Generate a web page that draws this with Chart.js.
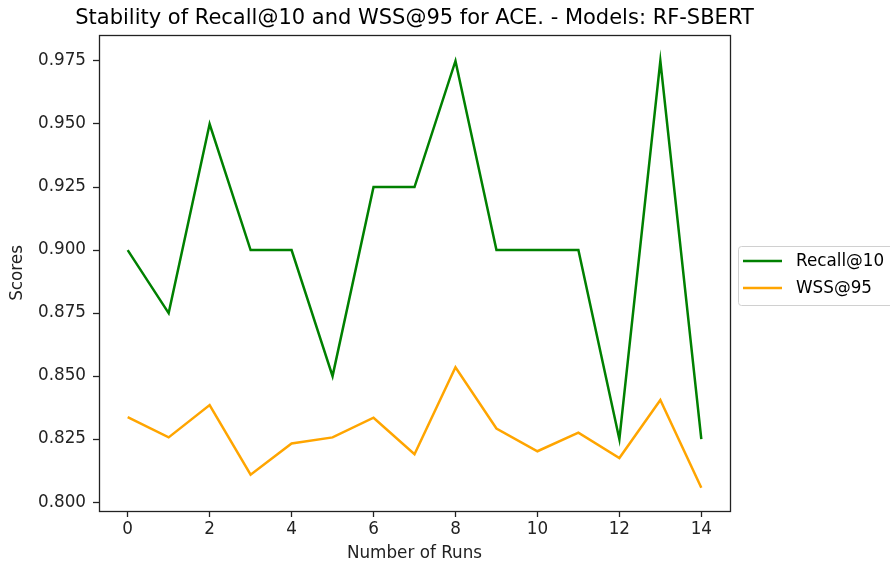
<!DOCTYPE html>
<html><head><meta charset="utf-8">
<script src="https://cdn.jsdelivr.net/npm/chart.js@4"></script>
<style>html,body{margin:0;padding:0;background:#fff}#w{width:890px;height:565px}</style>
</head><body><div id="w"><canvas id="c" width="890" height="565"></canvas></div>
<script>
const runs = [0,1,2,3,4,5,6,7,8,9,10,11,12,13,14];
const recall10 = [0.900,0.875,0.950,0.900,0.900,0.850,0.925,0.925,0.975,0.900,0.900,0.900,0.825,0.975,0.825];
const wss95 = [0.8337,0.8257,0.8385,0.8109,0.8233,0.8257,0.8335,0.8190,0.8535,0.8292,0.8202,0.8276,0.8175,0.8405,0.8057];
const xTicks = [0,2,4,6,8,10,12,14];
const yTicks = [0.800,0.825,0.850,0.875,0.900,0.925,0.950,0.975];
const titleText = 'Stability of Recall@10 and WSS@95 for ACE. - Models: RF-SBERT';

const FONT = "'DejaVu Sans', sans-serif";
const FS = 16.8;
const framePlugin = {
  id:'frame',
  afterDraw(chart){
    const {ctx, chartArea:a} = chart;
    ctx.save();
    ctx.strokeStyle='#222'; ctx.lineWidth=1.3;
    ctx.strokeRect(Math.round(a.left)+0.5, Math.round(a.top)+0.5, Math.round(a.right-a.left), Math.round(a.bottom-a.top));
    // title
    ctx.fillStyle='#000'; ctx.font='21px '+FONT; ctx.textAlign='center'; ctx.textBaseline='middle';
    ctx.fillText(titleText, (a.left+a.right)/2, 19);
    // legend
    const lx=738, ly=246, lw=160, lh=59;
    ctx.strokeStyle='#d0d0d0'; ctx.lineWidth=1;
    ctx.beginPath();
    if(ctx.roundRect){ctx.roundRect(lx+0.5,ly+0.5,lw,lh,3);} else {ctx.rect(lx+0.5,ly+0.5,lw,lh);}
    ctx.fillStyle='rgba(255,255,255,0.8)'; ctx.fill(); ctx.stroke();
    ctx.font=FS+'px '+FONT; ctx.textAlign='left'; ctx.textBaseline='middle';
    chart.data.datasets.forEach((d,i)=>{
      const y = ly+15+i*27;
      ctx.strokeStyle=d.borderColor; ctx.lineWidth=2.5;
      ctx.beginPath(); ctx.moveTo(lx+5,y); ctx.lineTo(lx+44,y); ctx.stroke();
      ctx.fillStyle='#000'; ctx.fillText(d.label, lx+58, y+1);
    });
    ctx.restore();
  }
};

new Chart(document.getElementById('c'), {
  type:'line',
  data:{
    datasets:[
      {label:'Recall@10', data:runs.map((r,i)=>({x:r,y:recall10[i]})), borderColor:'#008000', backgroundColor:'#008000', borderWidth:2.5, pointRadius:0, tension:0, fill:false},
      {label:'WSS@95', data:runs.map((r,i)=>({x:r,y:wss95[i]})), borderColor:'#FFA500', backgroundColor:'#FFA500', borderWidth:2.5, pointRadius:0, tension:0, fill:false}
    ]
  },
  options:{
    responsive:false, animation:false,
    layout:{padding:{left:0,right:160,top:35,bottom:0}},
    plugins:{legend:{display:false}, title:{display:false}, tooltip:{enabled:false}},
    scales:{
      x:{type:'linear', min:-0.7, max:14.7,
        afterBuildTicks(s){ s.ticks = xTicks.map(v=>({value:v})); },
        afterFit(s){ s.height = 54; },
        grid:{drawOnChartArea:false, drawTicks:true, tickLength:6, tickColor:'#222', tickWidth:1.3},
        border:{display:false},
        ticks:{color:'#222', font:{family:FONT,size:FS}, padding:3, maxRotation:0, callback:v=>String(v)},
        title:{display:true, text:'Number of Runs', color:'#222', font:{family:FONT,size:FS}, padding:{top:0,bottom:1}}
      },
      y:{type:'linear', min:0.7965, max:0.9853,
        afterBuildTicks(s){ s.ticks = yTicks.map(v=>({value:v})); },
        afterFit(s){ s.width = 99; },
        grid:{drawOnChartArea:false, drawTicks:true, tickLength:6, tickColor:'#222', tickWidth:1.3},
        border:{display:false},
        ticks:{color:'#222', font:{family:FONT,size:FS}, padding:7, callback:v=>Number(v).toFixed(3)},
        title:{display:true, text:'Scores', color:'#222', font:{family:FONT,size:FS}, padding:{top:8,bottom:4}}
      }
    }
  },
  plugins:[framePlugin]
});
</script></body></html>
